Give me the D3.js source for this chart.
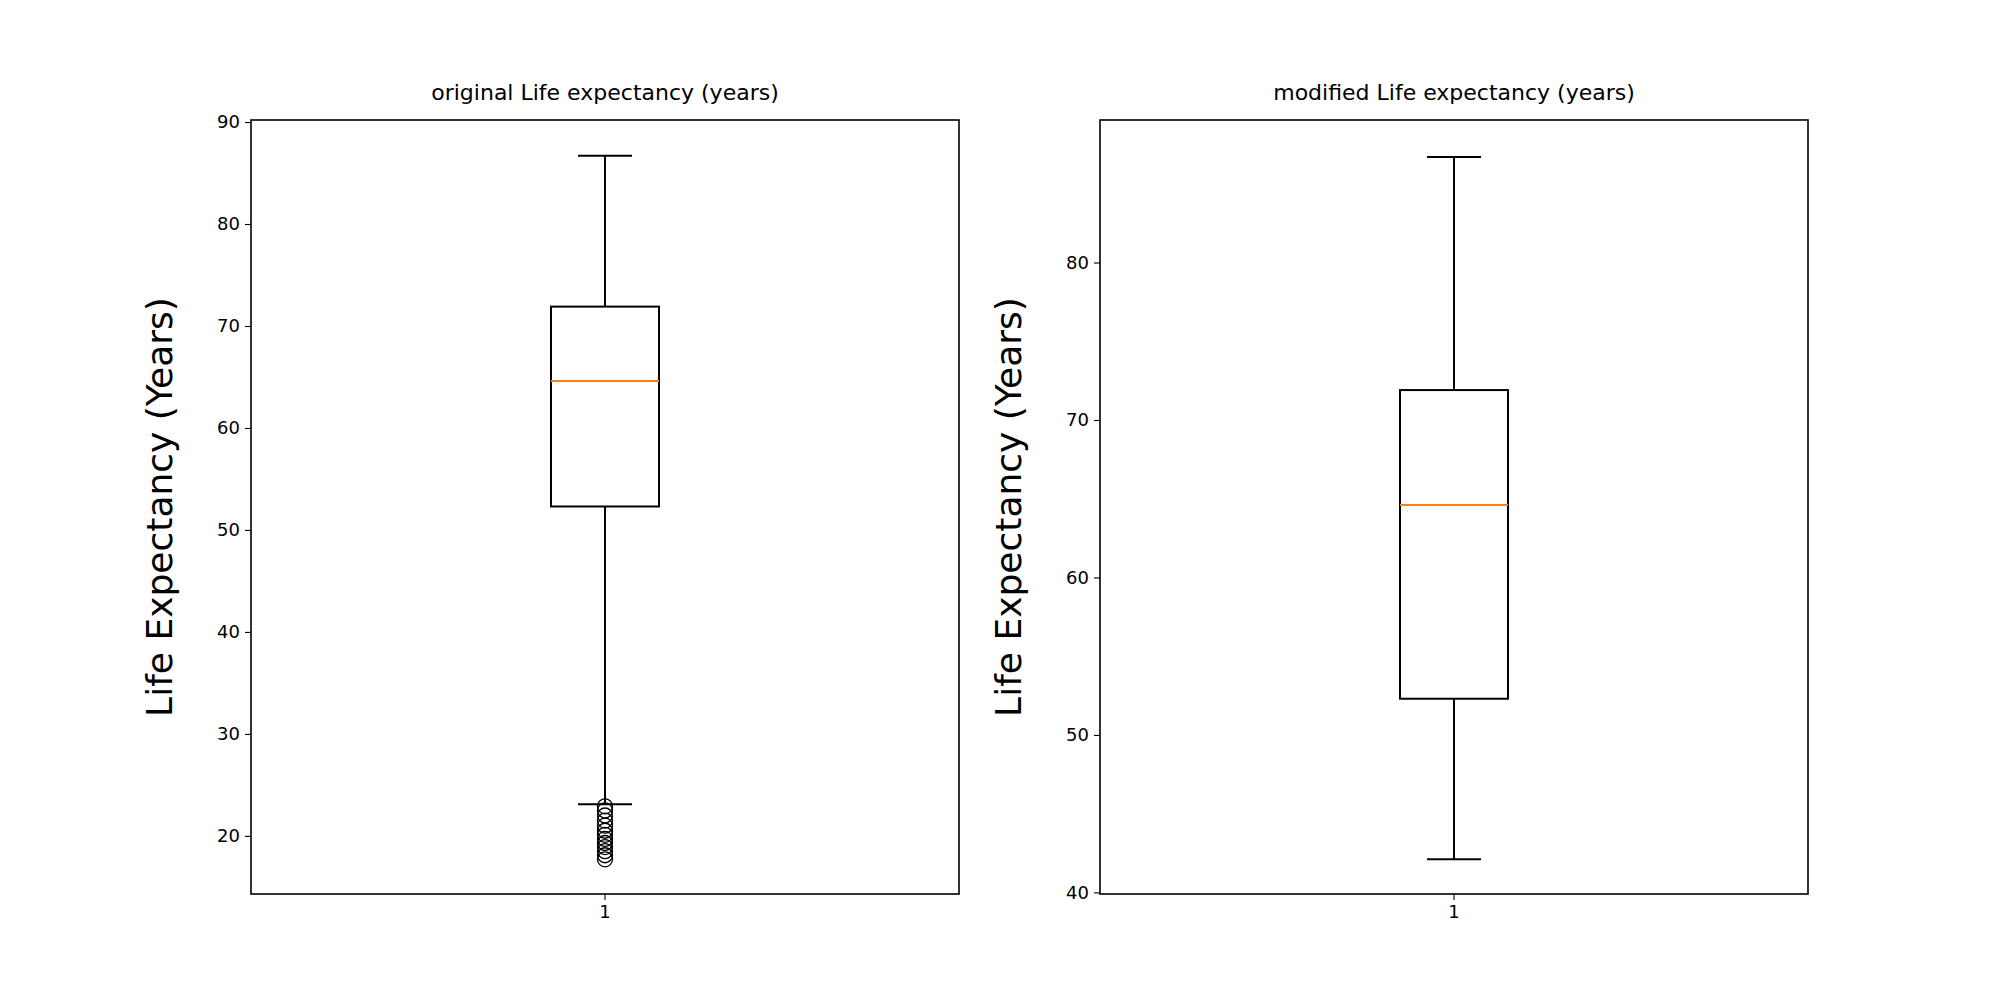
<!DOCTYPE html>
<html><head><meta charset="utf-8">
<script src="https://cdn.jsdelivr.net/npm/d3@7"></script>
<style>body{margin:0;background:#fff}text{font-family:"DejaVu Sans",sans-serif}</style>
</head><body><div id="chart"></div>
<script>
const titles = ["original Life expectancy (years)", "modified Life expectancy (years)"];
const stats = [
  { min: 23.1, q1: 52.3, median: 64.6, q3: 71.9, max: 86.7 },
  { min: 42.1, q1: 52.3, median: 64.6, q3: 71.9, max: 86.7 }
];
const outliers = [
  [17.7, 18.1, 18.5, 18.9, 19.3, 19.7, 20.1, 20.5, 21.0, 21.5, 22.0, 22.5, 22.9],
  []
];
const domains = [[14.3, 90.2], [39.9, 89.05]];
const ticks = [[20, 30, 40, 50, 60, 70, 80, 90], [40, 50, 60, 70, 80]];
const categories = ["1"];

const width = 2000, height = 1000;
const plotTop = 120, plotBottom = 894, panelW = 708;
const lefts = [251, 1100];

const svg = d3.select("#chart").append("svg").attr("width", width).attr("height", height);

stats.forEach((s, i) => {
  const x = d3.scaleBand().domain(categories).range([lefts[i], lefts[i] + panelW]);
  const y = d3.scaleLinear().domain(domains[i]).range([plotBottom, plotTop]);
  const g = svg.append("g");
  const cx = x("1") + x.bandwidth() / 2;
  const bw = 108, cw = 54;

  const ya = g.append("g").attr("transform", `translate(${lefts[i]},0)`)
    .call(d3.axisLeft(y).tickValues(ticks[i]).tickSize(6).tickPadding(5));
  const xa = g.append("g").attr("transform", `translate(0,${plotBottom})`)
    .call(d3.axisBottom(x).tickSize(6).tickPadding(5));
  [ya, xa].forEach(a => {
    a.select(".domain").remove();
    a.selectAll("line").attr("stroke", "#000").attr("stroke-width", 1.1);
    a.selectAll("text").attr("font-size", 18).attr("fill", "#000");
  });

  // whiskers
  g.append("line").attr("x1", cx).attr("x2", cx).attr("y1", y(s.q3)).attr("y2", y(s.max)).attr("stroke", "#000").attr("stroke-width", 2);
  g.append("line").attr("x1", cx).attr("x2", cx).attr("y1", y(s.q1)).attr("y2", y(s.min)).attr("stroke", "#000").attr("stroke-width", 2);
  [s.min, s.max].forEach(v => g.append("line").attr("x1", cx - cw / 2).attr("x2", cx + cw / 2)
    .attr("y1", y(v)).attr("y2", y(v)).attr("stroke", "#000").attr("stroke-width", 2));
  g.append("rect").attr("x", cx - bw / 2).attr("width", bw).attr("y", y(s.q3)).attr("height", y(s.q1) - y(s.q3))
    .attr("fill", "none").attr("stroke", "#000").attr("stroke-width", 2);
  g.append("line").attr("x1", cx - bw / 2).attr("x2", cx + bw / 2).attr("y1", y(s.median)).attr("y2", y(s.median))
    .attr("stroke", "#ff7f0e").attr("stroke-width", 2);
  g.selectAll("circle").data(outliers[i]).join("circle")
    .attr("cx", cx).attr("cy", d => y(d)).attr("r", 7.5)
    .attr("fill", "none").attr("stroke", "#000").attr("stroke-width", 1.3);

  g.append("rect").attr("x", lefts[i]).attr("y", plotTop).attr("width", panelW).attr("height", plotBottom - plotTop)
    .attr("fill", "none").attr("stroke", "#000").attr("stroke-width", 1.6);

  g.append("text").attr("x", lefts[i] + panelW / 2).attr("y", plotTop - 20).attr("text-anchor", "middle")
    .attr("font-size", 22).text(titles[i]);
  g.append("text").attr("transform", `translate(${lefts[i] - 79},${(plotTop + plotBottom) / 2}) rotate(-90)`)
    .attr("text-anchor", "middle").attr("font-size", 36).text("Life Expectancy (Years)");
});
</script></body></html>
